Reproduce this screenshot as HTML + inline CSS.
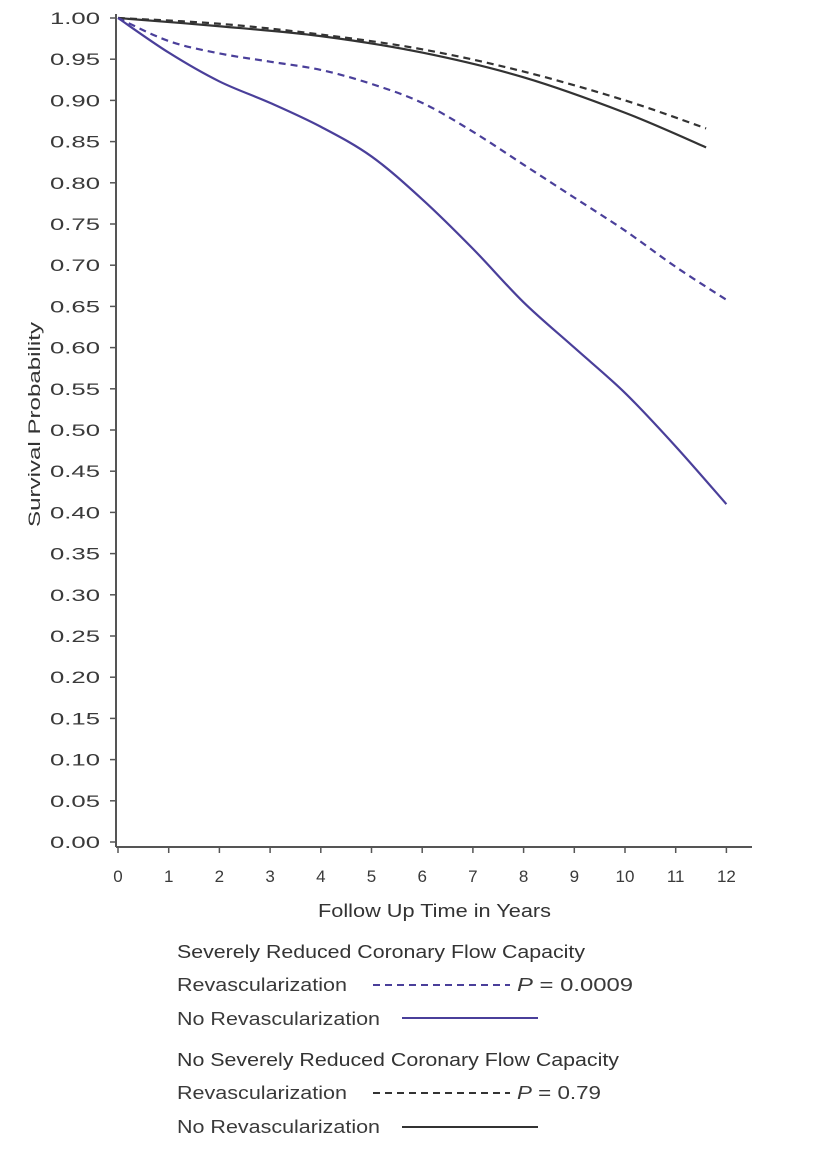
<!DOCTYPE html>
<html><head><meta charset="utf-8"><style>
body{margin:0;background:#fff;}
svg text{font-family:"Liberation Sans",sans-serif;fill:#3a3a3a;}
</style></head><body>
<svg id="s" width="816" height="1148" xmlns="http://www.w3.org/2000/svg">
<g id="ax"></g>
<text x="318" y="917" font-size="18" textLength="233" lengthAdjust="spacingAndGlyphs" style="fill:#333">Follow Up Time in Years</text>
<text transform="translate(40,527) rotate(-90)" font-size="17" textLength="205" lengthAdjust="spacingAndGlyphs" style="fill:#333">Survival Probability</text>
<g font-size="18">
<text x="177" y="958" textLength="408" lengthAdjust="spacingAndGlyphs" style="fill:#333">Severely Reduced Coronary Flow Capacity</text>
<text x="177" y="991" textLength="170" lengthAdjust="spacingAndGlyphs">Revascularization</text>
<line x1="373" y1="985" x2="510" y2="985" stroke="#4a3f9a" stroke-width="2" stroke-dasharray="7,5"/>
<text x="517" y="991" textLength="116" lengthAdjust="spacingAndGlyphs"><tspan font-style="italic">P</tspan> = 0.0009</text>
<text x="177" y="1025" textLength="203" lengthAdjust="spacingAndGlyphs">No Revascularization</text>
<line x1="402" y1="1018" x2="538" y2="1018" stroke="#4a3f9a" stroke-width="2"/>
<text x="177" y="1066" textLength="442" lengthAdjust="spacingAndGlyphs" style="fill:#333">No Severely Reduced Coronary Flow Capacity</text>
<text x="177" y="1099" textLength="170" lengthAdjust="spacingAndGlyphs">Revascularization</text>
<line x1="373" y1="1093" x2="510" y2="1093" stroke="#333" stroke-width="2" stroke-dasharray="7,5"/>
<text x="517" y="1099" textLength="84" lengthAdjust="spacingAndGlyphs"><tspan font-style="italic">P</tspan> = 0.79</text>
<text x="177" y="1133" textLength="203" lengthAdjust="spacingAndGlyphs">No Revascularization</text>
<line x1="402" y1="1127" x2="538" y2="1127" stroke="#333" stroke-width="2"/>
</g>
</svg>
<script>
const X=t=>118+t*50.7, Y=v=>842-v*824;
let g=document.getElementById('ax'),h='';
h+='<line x1="116" y1="14" x2="116" y2="847" stroke="#555" stroke-width="2"/>';
h+='<line x1="116" y1="847" x2="752" y2="847" stroke="#555" stroke-width="2"/>';
for(let i=0;i<=20;i++){let v=i*0.05,y=Y(v);h+=`<line x1="110" y1="${y}" x2="116" y2="${y}" stroke="#555" stroke-width="1.5"/><text x="100" y="${y+6}" font-size="17" text-anchor="end" textLength="50" lengthAdjust="spacingAndGlyphs">${v.toFixed(2)}</text>`;}
for(let t=0;t<=12;t++){let x=X(t);h+=`<line x1="${x}" y1="847" x2="${x}" y2="853" stroke="#555" stroke-width="1.5"/><text x="${x}" y="882" font-size="17" text-anchor="middle">${t}</text>`;}
function p(pts,col,dash){
let P=pts.map(q=>[X(q[0]),Y(q[1])]);let d='M'+P[0].join(',');
for(let i=0;i<P.length-1;i++){let p0=P[i-1]||P[i],p1=P[i],p2=P[i+1],p3=P[i+2]||p2;
d+=` C${p1[0]+(p2[0]-p0[0])/6},${p1[1]+(p2[1]-p0[1])/6} ${p2[0]-(p3[0]-p1[0])/6},${p2[1]-(p3[1]-p1[1])/6} ${p2[0]},${p2[1]}`;}
return `<path d="${d}" fill="none" stroke="${col}" stroke-width="2.2" ${dash?'stroke-dasharray="7,5"':''}/>`;}
h+=p([[0,1],[2,0.99],[4,0.978],[6,0.958],[8,0.928],[10,0.885],[11.6,0.843]],'#333',0);
h+=p([[0,1],[2,0.993],[4,0.98],[6,0.962],[8,0.935],[10,0.9],[11.6,0.866]],'#333',1);
h+=p([[0,1],[1,0.972],[2,0.957],[3,0.947],[4,0.937],[5,0.92],[6,0.897],[7,0.862],[8,0.822],[9,0.782],[10,0.742],[11,0.698],[12,0.658]],'#4a3f9a',1);
h+=p([[0,1],[1,0.958],[2,0.923],[3,0.897],[4,0.868],[5,0.832],[6,0.78],[7,0.72],[8,0.655],[9,0.6],[10,0.545],[11,0.48],[12,0.41]],'#4a3f9a',0);
g.innerHTML=h;
</script>
</body></html>
